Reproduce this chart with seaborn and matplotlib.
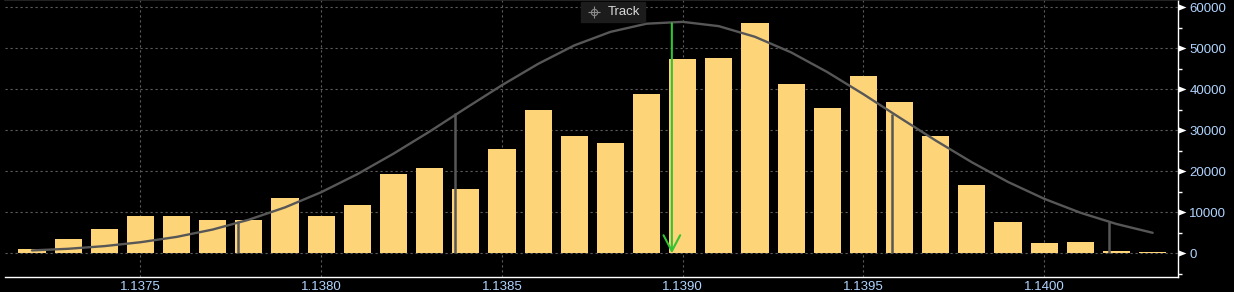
import numpy as np
import matplotlib
matplotlib.use("Agg")
import matplotlib.pyplot as plt
import matplotlib.transforms as mtransforms
from matplotlib.path import Path
from matplotlib.patches import Rectangle
from matplotlib.lines import Line2D
import seaborn as sns

# ---- data ----
prices = [1.1372, 1.1373, 1.1374, 1.1375, 1.1376, 1.1377, 1.1378, 1.1379,
          1.1380, 1.1381, 1.1382, 1.1383, 1.1384, 1.1385, 1.1386, 1.1387,
          1.1388, 1.1389, 1.1390, 1.1391, 1.1392, 1.1393, 1.1394, 1.1395,
          1.1396, 1.1397, 1.1398, 1.1399, 1.1400, 1.1401, 1.1402, 1.1403]
volumes = [1050, 3500, 5900, 9100, 9100, 8100, 8100, 13500,
           9100, 11800, 19300, 20800, 15700, 25400, 35000, 28600,
           26900, 38900, 47400, 47600, 56200, 41300, 35400, 43200,
           36900, 28600, 16700, 7600, 2500, 2800, 550, 250]
fit_curve = [700, 1100, 1750, 2700, 4000, 5800, 8200, 11200,
             14900, 19300, 24300, 29700, 35400, 41000, 46200, 50700,
             54000, 56000, 56450, 55400, 52800, 49000, 44200, 38800,
             33100, 27500, 22200, 17400, 13300, 9900, 7150, 5000]
sd_prices = [1.13777, 1.13837, 1.13958, 1.14018]
sd_heights = [7950, 34300, 34000, 7600]
mean_price = 1.13897
mean_height = 56100
x_ticks = [1.1375, 1.1380, 1.1385, 1.1390, 1.1395, 1.1400]
y_ticks = [0, 10000, 20000, 30000, 40000, 50000, 60000]

# ---- style ----
sns.set_theme(style="dark", rc={
    "figure.facecolor": "black",
    "axes.facecolor": "black",
    "savefig.facecolor": "black",
})
plt.rcParams["font.family"] = ["Liberation Sans", "DejaVu Sans"]

BAR = "#FED479"
CURVE = "#575757"
GREEN = "#33C233"
LABEL = "#B0D4FF"

W, H = 1234, 292
fig = plt.figure(figsize=(W / 100, H / 100), dpi=100)
ax = fig.add_axes([5 / W, (H - 276.7) / H, (1178.3 - 5) / W, 276.7 / H])

sns.barplot(x=prices, y=volumes, native_scale=True, width=0.75,
            color=BAR, saturation=1, errorbar=None, ax=ax, zorder=2,
            linewidth=0)
sns.lineplot(x=prices, y=fit_curve, color=CURVE, lw=1.7, ax=ax, zorder=3)
ax.vlines(sd_prices, 0, sd_heights, color=CURVE, lw=1.8, zorder=3)
ax.annotate("", xy=(mean_price, 0), xytext=(mean_price, mean_height),
            arrowprops=dict(arrowstyle="->,head_length=0.95,head_width=0.5",
                            color=GREEN, lw=1.5, shrinkA=0, shrinkB=0),
            zorder=4)

ax.set_xlim(1.1371253, 1.140371)
ax.set_ylim(-5707, 61780)

# grid
ax.set_axisbelow(True)
ax.grid(True, which="major", color="#5c5c5c", linestyle=(0, (2, 2.5)), lw=0.8)

# spines
ax.spines["left"].set_visible(False)
ax.spines["top"].set_color("#2a2a2a")
ax.spines["top"].set_linewidth(1.2)
ax.spines["bottom"].set_color("white")
ax.spines["bottom"].set_linewidth(1.0)
ax.spines["right"].set_color("white")
ax.spines["right"].set_linewidth(1.0)
ax.spines["right"].set_visible(True)
ax.spines["bottom"].set_visible(True)

# x ticks
ax.set_xticks(x_ticks)
ax.set_xticklabels([f"{v:.4f}" for v in x_ticks])
ax.tick_params(axis="x", which="both", length=0, pad=3, labelcolor=LABEL,
               labelsize=9.5, bottom=True)

# y ticks on the right
ax.yaxis.tick_right()
ax.set_yticks(y_ticks)
ax.set_yticklabels([str(v) for v in y_ticks])
ax.set_yticks(np.arange(-5000, 61000, 5000), minor=True)
ax.tick_params(axis="y", which="major", length=0, pad=8, labelcolor=LABEL,
               labelsize=9.5, right=True, left=False)
ax.tick_params(axis="y", which="minor", length=3, width=1, color="white",
               direction="out", right=True, left=False)
ax.set_xlabel("")
ax.set_ylabel("")

# triangle major tick markers
tri = Path([(0, -0.4), (1, 0), (0, 0.4), (0, -0.4)],
           [Path.MOVETO, Path.LINETO, Path.LINETO, Path.CLOSEPOLY])
trans = mtransforms.blended_transform_factory(ax.transAxes, ax.transData)
ax.plot([1.0] * len(y_ticks), y_ticks, linestyle="none", marker=tri,
        markersize=11.5, color="white", markeredgewidth=0,
        transform=trans, clip_on=False, zorder=5)

# "Track" box
fig.patches.append(Rectangle((581 / W, 1 - 22 / H), 64 / W, 20.3 / H,
                             transform=fig.transFigure, color="#1c1c1c",
                             zorder=10))
fig.text(608 / W, 1 - 11.8 / H, "Track", color="#d8d8d8", fontsize=9.5,
         va="center", ha="left", zorder=11)
fig.lines.append(Line2D([594 / W], [1 - 12 / H], marker="+", markersize=9,
                        color="#8a8a8a", markeredgewidth=0.8,
                        transform=fig.transFigure, zorder=11))
fig.lines.append(Line2D([594 / W], [1 - 12 / H], marker="o", markersize=4.5,
                        markerfacecolor="none", markeredgecolor="#8a8a8a",
                        markeredgewidth=0.8, transform=fig.transFigure,
                        zorder=11))

fig.savefig("out.png", dpi=100, facecolor="black")
